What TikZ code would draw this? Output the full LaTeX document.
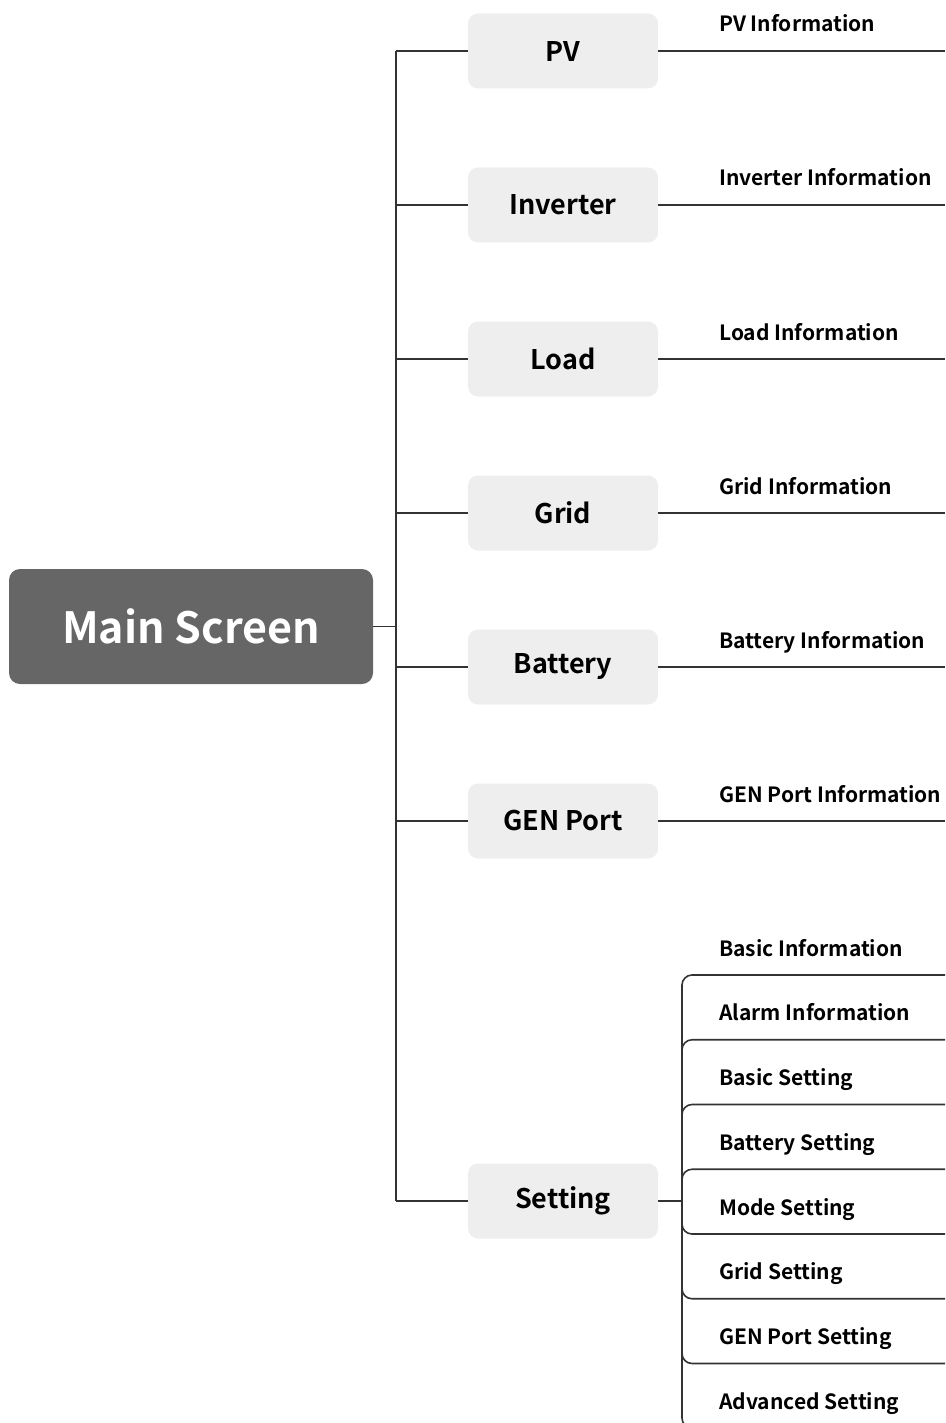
\documentclass[tikz,border=0pt]{standalone}
\usepackage{fontspec}
\setmainfont{Noto Sans}
\newfontfamily\labfont{Noto Sans CJK KR}[UprightFont={* Bold}]
\begin{document}
\begin{tikzpicture}[x=1pt,y=-1pt,
  mainbox/.style={fill=mainfill, rounded corners=11pt, minimum width=364pt, minimum height=115pt, text=white, font=\labfont\fontsize{43}{50}\selectfont, inner sep=0pt},
  subbox/.style={fill=subfill, rounded corners=10pt, minimum width=190pt, minimum height=75pt, text=black, font=\labfont\fontsize{27}{32}\selectfont, inner sep=0pt},
  info/.style={anchor=base west, inner sep=0pt, font=\labfont\fontsize{21}{26}\selectfont},
  conn/.style={draw=linecol, line width=1.6pt},
]
\definecolor{mainfill}{HTML}{666666}
\definecolor{subfill}{HTML}{EEEEEE}
\definecolor{linecol}{HTML}{333333}
\useasboundingbox (0,0) rectangle (945,1423);

\node[mainbox] (main) at (191,626.5) {Main Screen};
\coordinate (bustop) at (396,51);
\coordinate (busbot) at (396,1201);
\draw[conn] (bustop) -- (busbot);
\draw[conn] (main.east) -- (main.east -| bustop);

\foreach \nm/\txt/\yy/\lab in {pv/PV/51/PV Information, inv/Inverter/205/Inverter Information, load/Load/359/Load Information, grid/Grid/513/Grid Information, bat/Battery/667/Battery Information, gen/GEN Port/821/GEN Port Information}{
  \node[subbox] (\nm) at (563,\yy) {\txt};
  \coordinate (\nm-b) at (396,\yy);
  \coordinate (\nm-e) at (945,\yy);
  \draw[conn] (\nm-b) -- (\nm.west);
  \draw[conn] (\nm.east) -- (\nm-e);
  \node[info] (\nm-lab) at (719,\yy-19) {\lab};
}

\node[subbox] (set) at (563,1201) {Setting};
\coordinate (set-b) at (396,1201);
\coordinate (set-j) at (682,1201);
\draw[conn] (set-b) -- (set.west);
\draw[conn] (set.east) -- (set-j);

% bracket
\coordinate (brtop) at (682,975);
\coordinate (brbot) at (682,1428);
\draw[conn, rounded corners=10pt] (945,975) -- (brtop) -- (brbot) -- (945,1428);
\foreach \yy in {1039.75,1104.5,1169.25}{
  \draw[conn, rounded corners=10pt] (945,\yy) -- (682,\yy) -- (682,\yy+20);
}
\foreach \yy in {1234,1298.75,1363.5}{
  \draw[conn, rounded corners=10pt] (682,\yy-20) -- (682,\yy) -- (945,\yy);
}
\foreach \nm/\lab/\yy in {s1/Basic Information/975, s2/Alarm Information/1039.75, s3/Basic Setting/1104.5, s4/Battery Setting/1169.25, s5/Mode Setting/1234, s6/Grid Setting/1298.75, s7/GEN Port Setting/1363.5, s8/Advanced Setting/1428.25}{
  \node[info] (\nm) at (719,\yy-19) {\lab};
}
\end{tikzpicture}
\end{document}
